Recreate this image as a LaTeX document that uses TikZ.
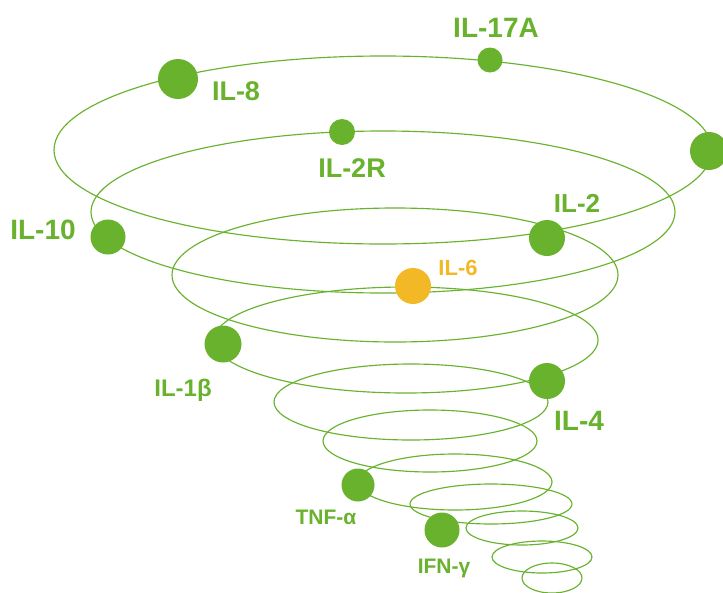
\documentclass[tikz,border=0pt]{standalone}
\usepackage{fontspec}
\setmainfont{Liberation Sans}
\definecolor{leaf}{RGB}{104,178,45}
\definecolor{amber}{RGB}{242,184,38}
\begin{document}
\begin{tikzpicture}[x=1pt,y=-1pt,
  ring/.style={draw=leaf,line width=1.15pt},
  dot/.style={circle,fill=leaf,inner sep=0pt,minimum size=#1},
  odot/.style={circle,fill=amber,inner sep=0pt,minimum size=#1},
  lab/.style={text=leaf,font=\bfseries\fontsize{#1}{#1}\selectfont,inner sep=0pt,anchor=base},
  olab/.style={text=amber,font=\bfseries\fontsize{#1}{#1}\selectfont,inner sep=0pt,anchor=base}]
\useasboundingbox (0,0) rectangle (723,592);
% rings of the funnel
\draw[ring] (383,150) ellipse [x radius=329pt, y radius=94pt];
\draw[ring] (383,212) ellipse [x radius=292pt, y radius=81pt];
\draw[ring] (395,275) ellipse [x radius=223pt, y radius=67pt];
\draw[ring] (406,340) ellipse [x radius=192pt, y radius=53pt];
\draw[ring] (411,402) ellipse [x radius=137pt, y radius=38pt];
\draw[ring] (430,441) ellipse [x radius=107pt, y radius=31pt];
\draw[ring] (455,482) ellipse [x radius=97pt, y radius=28pt];
\draw[ring] (491,504) ellipse [x radius=81pt, y radius=20pt];
\draw[ring] (522,528) ellipse [x radius=56pt, y radius=17pt];
\draw[ring] (542,557) ellipse [x radius=50pt, y radius=16pt];
\draw[ring] (552,578) ellipse [x radius=30pt, y radius=15pt];
% dots
\node[dot=40pt] (d8) at (178,79) {};
\node[dot=25pt] (d17) at (490,60) {};
\node[dot=26pt] (d2r) at (342,132) {};
\node[dot=38pt] (dR) at (709,151) {};
\node[dot=35pt] (d10) at (108,237) {};
\node[dot=36pt] (d2) at (547,238) {};
\node[odot=36pt] (d6) at (413,286) {};
\node[dot=37pt] (d1b) at (223,344) {};
\node[dot=36pt] (d4) at (547,381) {};
\node[dot=33pt] (dtnf) at (358,485) {};
\node[dot=35pt] (difn) at (442,530) {};
% labels
\node[lab=27] (l8) at (236,100) {IL-8};
\node[lab=28] (l17) at (496,37) {IL-17A};
\node[lab=27] (l2r) at (352,177) {IL-2R};
\node[lab=28] (l10) at (43,239) {IL-10};
\node[lab=26] (l2) at (577,212) {IL-2};
\node[olab=22] (l6) at (458,275) {IL-6};
\node[lab=24] (l1b) at (183,396) {IL-1β};
\node[lab=28] (l4) at (579,430) {IL-4};
\node[lab=21] (ltnf) at (326,524) {TNF-α};
\node[lab=21] (lifn) at (444,573) {IFN-γ};
\end{tikzpicture}
\end{document}
